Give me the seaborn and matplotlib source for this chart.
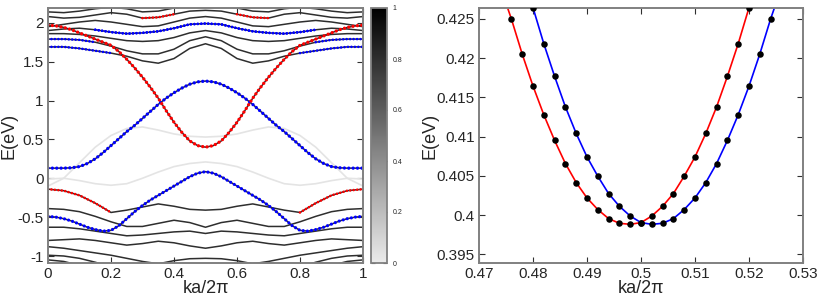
import numpy as np
import matplotlib
matplotlib.use('Agg')
import matplotlib.pyplot as plt
from matplotlib.colors import LinearSegmentedColormap, Normalize
from matplotlib.cm import ScalarMappable
import seaborn as sns

sns.set_style('ticks')
plt.rcParams['font.family'] = ['Liberation Sans', 'DejaVu Sans']

# ---- left panel: band structure, k grid ----
k_fine = np.linspace(0, 1, 41)
k_coarse = np.linspace(0, 1, 21)

# highlighted bands (fine grid)
band_A = [0.13, 0.13, 0.13, 0.135, 0.15, 0.19, 0.25, 0.33, 0.42, 0.51, 0.60, 0.68, 0.77, 0.86, 0.95, 1.03, 1.10, 1.16, 1.21, 1.24, 1.25,
          1.24, 1.21, 1.16, 1.10, 1.03, 0.95, 0.86, 0.77, 0.68, 0.60, 0.51, 0.42, 0.33, 0.25, 0.19, 0.15, 0.135, 0.13, 0.13, 0.13]
band_B = [1.97, 1.96, 1.94, 1.91, 1.87, 1.83, 1.79, 1.75, 1.71, 1.63, 1.53, 1.42, 1.30, 1.17, 1.03, 0.87, 0.72, 0.59, 0.48, 0.42, 0.40,
          0.42, 0.48, 0.59, 0.72, 0.87, 1.03, 1.17, 1.30, 1.42, 1.53, 1.63, 1.71, 1.75, 1.79, 1.83, 1.87, 1.91, 1.94, 1.96, 1.97]
band_C = [-0.49, -0.50, -0.52, -0.55, -0.59, -0.63, -0.66, -0.68, -0.67, -0.61, -0.52, -0.43, -0.35, -0.28, -0.22, -0.16, -0.10, -0.04, 0.02, 0.065, 0.085,
          0.065, 0.02, -0.04, -0.10, -0.16, -0.22, -0.28, -0.35, -0.43, -0.52, -0.61, -0.67, -0.68, -0.66, -0.63, -0.59, -0.55, -0.52, -0.50, -0.49]

# other bands (coarse grid)
band_D = [-0.14, -0.16, -0.22, -0.32, -0.44, -0.41, -0.37, -0.33, -0.36, -0.40, -0.41, -0.40, -0.36, -0.33, -0.37, -0.41, -0.44, -0.32, -0.22, -0.16, -0.14]
band_F = [-0.39, -0.40, -0.43, -0.49, -0.56, -0.62, -0.62, -0.58, -0.54, -0.57, -0.63, -0.57, -0.54, -0.58, -0.62, -0.62, -0.56, -0.49, -0.43, -0.40, -0.39]
band_L4 = [-0.63, -0.63, -0.65, -0.68, -0.71, -0.74, -0.73, -0.71, -0.69, -0.68, -0.71, -0.68, -0.69, -0.71, -0.73, -0.74, -0.71, -0.68, -0.65, -0.63, -0.63]
band_L5 = [-0.80, -0.79, -0.78, -0.80, -0.83, -0.86, -0.84, -0.81, -0.83, -0.87, -0.90, -0.87, -0.83, -0.81, -0.84, -0.86, -0.83, -0.80, -0.78, -0.79, -0.80]
band_L6 = [-0.88, -0.90, -0.93, -0.96, -0.99, -1.03, -1.07, -1.10, -1.06, -1.035, -1.03, -1.035, -1.06, -1.10, -1.07, -1.03, -0.99, -0.96, -0.93, -0.90, -0.88]
band_L7 = [-0.99, -1.00, -1.03, -1.08, -1.14, -1.20, -1.26, -1.30, -1.30, -1.30, -1.30, -1.30, -1.30, -1.30, -1.26, -1.20, -1.14, -1.08, -1.03, -1.00, -0.99]
band_L8 = [-1.05, -1.07, -1.12, -1.20, -1.28, -1.35, -1.40, -1.40, -1.40, -1.40, -1.40, -1.40, -1.40, -1.40, -1.40, -1.35, -1.28, -1.20, -1.12, -1.07, -1.05]
band_U1 = [1.69, 1.69, 1.67, 1.64, 1.61, 1.57, 1.51, 1.48, 1.54, 1.67, 1.73, 1.67, 1.54, 1.48, 1.51, 1.57, 1.61, 1.64, 1.67, 1.69, 1.69]
band_U2 = [1.79, 1.79, 1.78, 1.75, 1.70, 1.64, 1.60, 1.60, 1.66, 1.77, 1.82, 1.77, 1.66, 1.60, 1.60, 1.64, 1.70, 1.75, 1.78, 1.79, 1.79]
band_U3 = [1.86, 1.86, 1.85, 1.83, 1.80, 1.77, 1.76, 1.77, 1.81, 1.87, 1.90, 1.87, 1.81, 1.77, 1.76, 1.77, 1.80, 1.83, 1.85, 1.86, 1.86]
band_U4 = [1.90, 1.92, 1.93, 1.91, 1.88, 1.86, 1.87, 1.89, 1.93, 1.98, 1.99, 1.98, 1.93, 1.89, 1.87, 1.86, 1.88, 1.91, 1.93, 1.92, 1.90]
band_U5 = [1.95, 1.98, 2.01, 2.03, 2.01, 1.98, 1.95, 1.96, 2.01, 2.06, 2.08, 2.06, 2.01, 1.96, 1.95, 1.98, 2.01, 2.03, 2.01, 1.98, 1.95]
band_U6 = [2.08, 2.06, 2.07, 2.10, 2.13, 2.11, 2.06, 2.07, 2.11, 2.15, 2.16, 2.15, 2.11, 2.07, 2.06, 2.11, 2.13, 2.10, 2.07, 2.06, 2.08]
band_U7 = [2.14, 2.13, 2.15, 2.18, 2.20, 2.18, 2.14, 2.15, 2.19, 2.22, 2.24, 2.22, 2.19, 2.15, 2.14, 2.18, 2.20, 2.18, 2.15, 2.13, 2.14]
# faint (low weight) bands
band_G1 = [-0.10, 0.00, 0.20, 0.40, 0.55, 0.64, 0.66, 0.62, 0.57, 0.54, 0.53, 0.54, 0.57, 0.62, 0.66, 0.64, 0.55, 0.40, 0.20, 0.00, -0.10]
band_G2 = [-0.01, 0.00, -0.03, -0.07, -0.09, -0.07, 0.00, 0.08, 0.15, 0.19, 0.21, 0.19, 0.15, 0.08, 0.00, -0.07, -0.09, -0.07, -0.03, 0.00, -0.01]

left_yticks = [-1, -0.5, 0, 0.5, 1, 1.5, 2]
left_ylabels = ['-1', '-0.5', '0', '0.5', '1', '1.5', '2']
left_xticks = [0, 0.2, 0.4, 0.6, 0.8, 1]
left_xlabels = ['0', '0.2', '0.4', '0.6', '0.8', '1']
cb_ticks = [0, 0.2, 0.4, 0.6, 0.8, 1]
cb_labels = ['0', '0.2', '0.4', '0.6', '0.8', '1']

# ---- right panel: zoom near k = 0.5 ----
red_k = [0.476, 0.478, 0.480, 0.482, 0.484, 0.486, 0.488, 0.490, 0.492, 0.494, 0.496, 0.498,
         0.500, 0.502, 0.504, 0.506, 0.508, 0.510, 0.512, 0.514, 0.516, 0.518, 0.520]
red_E = [0.42500, 0.42053, 0.41645, 0.41279, 0.40952, 0.40658, 0.40415, 0.40219, 0.40071, 0.39956, 0.39896, 0.39883,
         0.39905, 0.39989, 0.40113, 0.40275, 0.40496, 0.40742, 0.41041, 0.41380, 0.41769, 0.42185, 0.42644]
blue_k = [0.480, 0.482, 0.484, 0.486, 0.488, 0.490, 0.492, 0.494, 0.496, 0.498, 0.500, 0.502,
          0.504, 0.506, 0.508, 0.510, 0.512, 0.514, 0.516, 0.518, 0.520, 0.522, 0.524]
blue_E = [0.42644, 0.42185, 0.41769, 0.41380, 0.41041, 0.40742, 0.40496, 0.40275, 0.40113, 0.39989, 0.39905, 0.39883,
          0.39896, 0.39956, 0.40071, 0.40219, 0.40415, 0.40658, 0.40952, 0.41279, 0.41645, 0.42053, 0.42500]
# where the fitted curves leave the frame
red_curve_k = [0.4753] + red_k
red_curve_E = [0.4264] + red_E
blue_curve_k = blue_k + [0.5247]
blue_curve_E = blue_E + [0.4264]

right_yticks = [0.395, 0.400, 0.405, 0.410, 0.415, 0.420, 0.425]
right_ylabels = ['0.395', '0.4', '0.405', '0.41', '0.415', '0.42', '0.425']
right_xticks = [0.47, 0.48, 0.49, 0.50, 0.51, 0.52, 0.53]
right_xlabels = ['0.47', '0.48', '0.49', '0.5', '0.51', '0.52', '0.53']

W, H = 822, 302
fig = plt.figure(figsize=(W / 100, H / 100), dpi=100)
ax1 = fig.add_axes([48 / W, 39 / H, 315 / W, 255 / H])
cax = fig.add_axes([371 / W, 39 / H, 16 / W, 255 / H])
ax2 = fig.add_axes([479 / W, 39 / H, 324 / W, 255 / H])

DOT = (0, (0.01, 1.3))


def band(ax, k, e, color, lw=1.1):
    sns.lineplot(x=k, y=e, ax=ax, color=color, lw=lw, estimator=None, sort=False, legend=False)


def dots(ax, k, e, lo, hi, color, lw=1.9):
    k = np.asarray(k)
    e = np.asarray(e)
    m = (k >= lo - 1e-9) & (k <= hi + 1e-9)
    sns.lineplot(x=k[m], y=e[m], ax=ax, color=color, lw=lw, linestyle=DOT,
                 dash_capstyle='round', estimator=None, sort=False, legend=False)


# faint bands first
for e in [band_G1, band_G2]:
    band(ax1, k_coarse, e, '#e4e4e4', lw=1.2)

# dark bands
for e in [band_D, band_F, band_L4, band_L5, band_L6, band_L7, band_L8,
          band_U1, band_U2, band_U3, band_U4, band_U5, band_U6, band_U7]:
    band(ax1, k_coarse, e, '#2e2e2e')
for e in [band_A, band_B, band_C]:
    band(ax1, k_fine, e, '#2e2e2e')

# weighted dots
dots(ax1, k_fine, band_A, 0, 1, '#0000ff', lw=2.4)
dots(ax1, k_fine, band_B, 0, 1, '#ff0000', lw=2.4)
dots(ax1, k_fine, band_C, 0, 1, '#0000ff', lw=2.3)
for e, lo, hi, c in [(band_D, 0, 0.2, '#ff0000'), (band_U1, 0, 0.2, '#0000ff'),
                     (band_U2, 0, 0.15, '#0000ff'), (band_U4, 0.15, 0.85, '#0000ff'),
                     (band_U6, 0.3, 0.4, '#ff0000')]:
    dots(ax1, k_coarse, e, lo, hi, c)
    dots(ax1, k_coarse, e, 1 - hi, 1 - lo, c)

ax1.set_xlim(0, 1)
ax1.set_ylim(-1.09, 2.19)
ax1.set_xticks(left_xticks)
ax1.set_xticklabels(left_xlabels)
ax1.set_yticks(left_yticks)
ax1.set_yticklabels(left_ylabels)
ax1.set_xlabel('ka/2π', fontsize=13)
ax1.set_ylabel('E(eV)', fontsize=13)
ax1.yaxis.set_label_coords(-0.097, 0.5)
ax1.xaxis.set_label_coords(0.5, -0.068)

# colorbar
cmap = LinearSegmentedColormap.from_list('weight', ['#ebebeb', '#000000'])
cb = fig.colorbar(ScalarMappable(norm=Normalize(0, 1), cmap=cmap), cax=cax, ticks=cb_ticks)
cb.ax.set_yticklabels(cb_labels, fontsize=5)
cb.outline.set_edgecolor('#808080')
cb.outline.set_linewidth(1.3)
cax.tick_params(direction='in', length=3, left=True, right=True, color='#404040', pad=4)

# right panel
sns.lineplot(x=red_curve_k, y=red_curve_E, ax=ax2, color='#ff0000', lw=1.2, estimator=None, sort=False, legend=False)
sns.lineplot(x=blue_curve_k, y=blue_curve_E, ax=ax2, color='#0000ff', lw=1.2, estimator=None, sort=False, legend=False)
sns.scatterplot(x=red_k, y=red_E, ax=ax2, color='black', s=22, linewidth=0, zorder=5, legend=False)
sns.scatterplot(x=blue_k, y=blue_E, ax=ax2, color='black', s=22, linewidth=0, zorder=5, legend=False)
ax2.set_xlim(0.47, 0.53)
ax2.set_ylim(0.3939, 0.4264)
ax2.set_xticks(right_xticks)
ax2.set_xticklabels(right_xlabels)
ax2.set_yticks(right_yticks)
ax2.set_yticklabels(right_ylabels)
ax2.set_xlabel('ka/2π', fontsize=13)
ax2.set_ylabel('E(eV)', fontsize=13)
ax2.yaxis.set_label_coords(-0.124, 0.5)
ax2.xaxis.set_label_coords(0.5, -0.068)

for ax in [ax1, ax2]:
    for s in ax.spines.values():
        s.set_color('#808080')
        s.set_linewidth(1.4)
    ax.tick_params(direction='in', length=4, width=0.8, top=True, right=True,
                   color='#303030', labelsize=11, pad=3)

fig.savefig('out.png', dpi=100)
